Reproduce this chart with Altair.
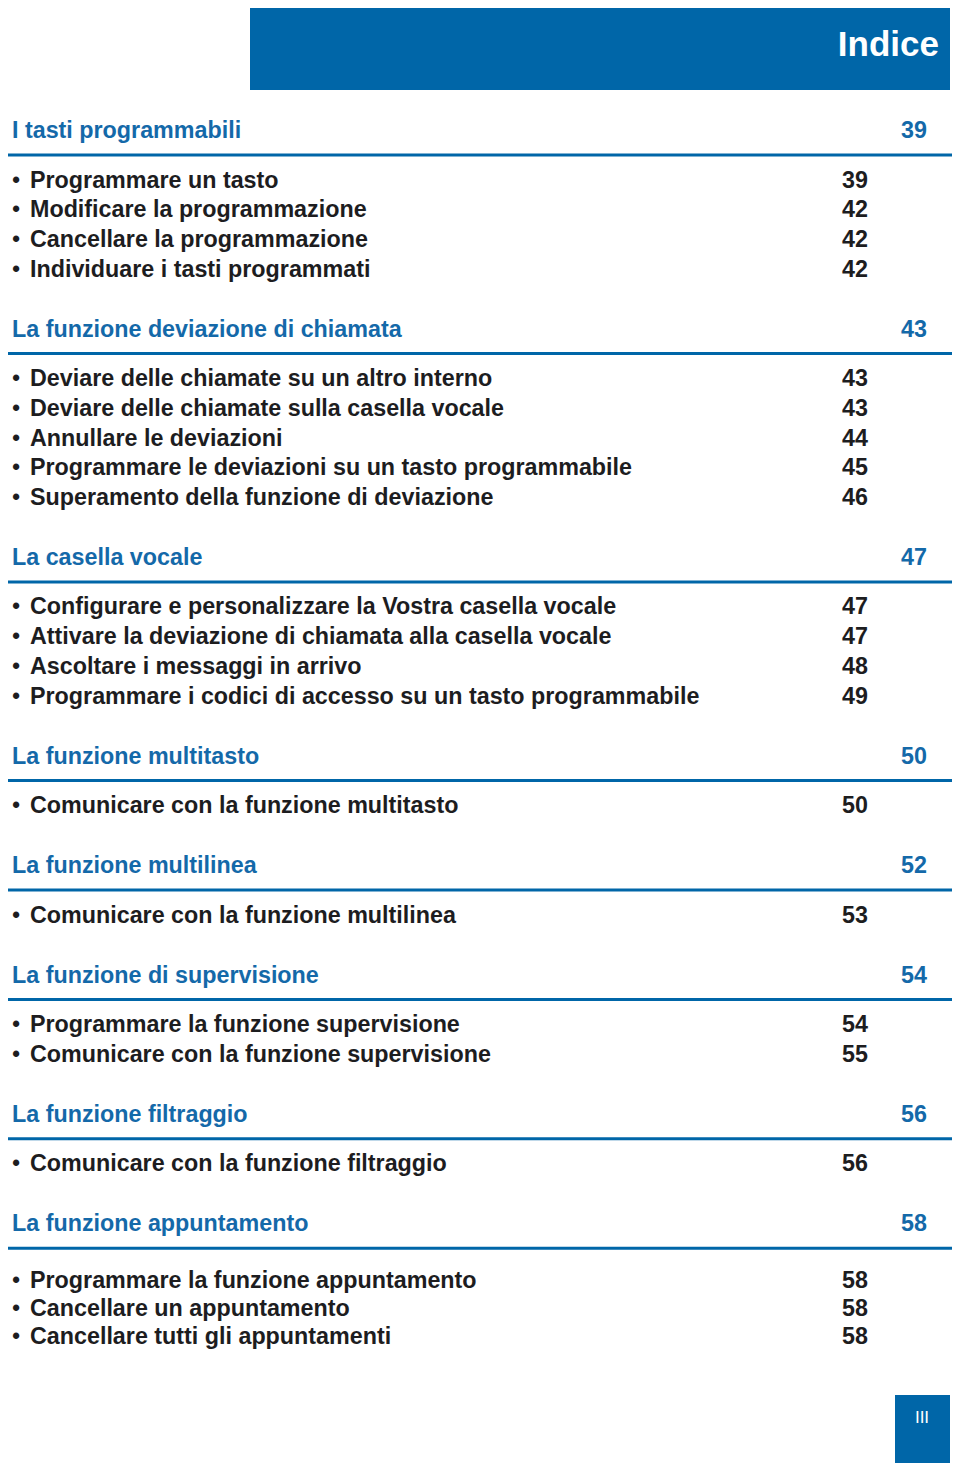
import altair as alt
import pandas as pd

# ---------------- data ----------------
page_title = "Indice"
page_number = "III"

section_titles = [
    "I tasti programmabili",
    "La funzione deviazione di chiamata",
    "La casella vocale",
    "La funzione multitasto",
    "La funzione multilinea",
    "La funzione di supervisione",
    "La funzione filtraggio",
    "La funzione appuntamento",
]
section_pages = [39, 43, 47, 50, 52, 54, 56, 58]

items_1 = ["Programmare un tasto", "Modificare la programmazione",
           "Cancellare la programmazione", "Individuare i tasti programmati"]
pages_1 = [39, 42, 42, 42]
items_2 = ["Deviare delle chiamate su un altro interno",
           "Deviare delle chiamate sulla casella vocale",
           "Annullare le deviazioni",
           "Programmare le deviazioni su un tasto programmabile",
           "Superamento della funzione di deviazione"]
pages_2 = [43, 43, 44, 45, 46]
items_3 = ["Configurare e personalizzare la Vostra casella vocale",
           "Attivare la deviazione di chiamata alla casella vocale",
           "Ascoltare i messaggi in arrivo",
           "Programmare i codici di accesso su un tasto programmabile"]
pages_3 = [47, 47, 48, 49]
items_4 = ["Comunicare con la funzione multitasto"]
pages_4 = [50]
items_5 = ["Comunicare con la funzione multilinea"]
pages_5 = [53]
items_6 = ["Programmare la funzione supervisione",
           "Comunicare con la funzione supervisione"]
pages_6 = [54, 55]
items_7 = ["Comunicare con la funzione filtraggio"]
pages_7 = [56]
items_8 = ["Programmare la funzione appuntamento",
           "Cancellare un appuntamento",
           "Cancellare tutti gli appuntamenti"]
pages_8 = [58, 58, 58]

section_items = [items_1, items_2, items_3, items_4, items_5, items_6, items_7, items_8]
section_item_pages = [pages_1, pages_2, pages_3, pages_4, pages_5, pages_6, pages_7, pages_8]

# ---------------- layout ----------------
W, H, M = 960, 1471, 8
FIRST_HEADING = 131
HEAD_TO_ITEM = 49.5
ITEM_STEP = 29.7
ITEM_TO_HEAD = 60
RULE_OFFSET = 24
BLUE = "#0066a8"
HEAD_BLUE = "#1469a9"
DARK = "#1d1d1f"
FONT = "Liberation Sans"
FS = 23.3

heads, items, rules = [], [], []
y = FIRST_HEADING
n_sec = len(section_titles)
for k, (t, p, its, pgs) in enumerate(zip(section_titles, section_pages, section_items, section_item_pages)):
    heads.append({"y": y, "text": t, "page": str(p), "xt": 12, "xp": 927})
    rules.append({"y": y + RULE_OFFSET, "x": 8, "x2": 952})
    # the last block on the page is set slightly lower and tighter
    last = k == n_sec - 1
    iy = y + (HEAD_TO_ITEM + 7 if last else HEAD_TO_ITEM)
    step = 28 if last else ITEM_STEP
    for i, (it, pg) in enumerate(zip(its, pgs)):
        items.append({"y": iy, "text": it, "page": str(pg),
                      "xb": 16, "xt": 30, "xp": 868, "b": "•"})
        if i < len(its) - 1:
            iy += step
    y = iy + ITEM_TO_HEAD

heads_df = pd.DataFrame(heads)
items_df = pd.DataFrame(items)
rules_df = pd.DataFrame(rules)
boxes_df = pd.DataFrame({"x": [250, 895], "x2": [950, 950],
                         "y": [0, 1395], "y2": [90, 1471]})
labels_df = pd.DataFrame({"x": [939, 922], "y": [45, 1418],
                          "text": [page_title, page_number]})

xs = alt.Scale(domain=[M, W - M], range=[0, W - 2 * M], zero=False, nice=False)
ys = alt.Scale(domain=[M, H - M], range=[0, H - 2 * M], zero=False, nice=False)


def X(f):
    return alt.X(f"{f}:Q", scale=xs, axis=None)


def Y(f):
    return alt.Y(f"{f}:Q", scale=ys, axis=None)


boxes = alt.Chart(boxes_df).mark_rect(color=BLUE).encode(
    x=X("x"), x2="x2", y=Y("y"), y2="y2")

title_txt = alt.Chart(labels_df.iloc[[0]]).mark_text(
    align="right", baseline="middle", font=FONT, fontWeight="bold",
    fontSize=35, color="white").encode(x=X("x"), y=Y("y"), text="text:N")
num_txt = alt.Chart(labels_df.iloc[[1]]).mark_text(
    align="center", baseline="middle", font=FONT, fontSize=17,
    color="white").encode(x=X("x"), y=Y("y"), text="text:N")

head_txt = alt.Chart(heads_df).mark_text(
    align="left", baseline="middle", font=FONT, fontWeight="bold",
    fontSize=FS, color=HEAD_BLUE).encode(x=X("xt"), y=Y("y"), text="text:N")
head_pg = alt.Chart(heads_df).mark_text(
    align="right", baseline="middle", font=FONT, fontWeight="bold",
    fontSize=FS, color=HEAD_BLUE).encode(x=X("xp"), y=Y("y"), text="page:N")
rule = alt.Chart(rules_df).mark_rule(color=BLUE, strokeWidth=3).encode(
    x=X("x"), x2="x2", y=Y("y"))

bullet = alt.Chart(items_df).mark_text(
    align="center", baseline="middle", font=FONT,
    fontSize=FS, color=DARK).encode(x=X("xb"), y=Y("y"), text="b:N")
item_txt = alt.Chart(items_df).mark_text(
    align="left", baseline="middle", font=FONT, fontWeight="bold",
    fontSize=FS, color=DARK).encode(x=X("xt"), y=Y("y"), text="text:N")
item_pg = alt.Chart(items_df).mark_text(
    align="right", baseline="middle", font=FONT, fontWeight="bold",
    fontSize=FS, color=DARK).encode(x=X("xp"), y=Y("y"), text="page:N")

chart = alt.layer(
    boxes, title_txt, num_txt,
    head_txt, head_pg, rule, bullet, item_txt, item_pg
).properties(
    width=W - 2 * M, height=H - 2 * M, padding=0,
    autosize=alt.AutoSizeParams(type="none"),
    background="white",
).configure_view(stroke=None)

chart.save("out.html", embed_options={"renderer": "svg", "actions": False})
